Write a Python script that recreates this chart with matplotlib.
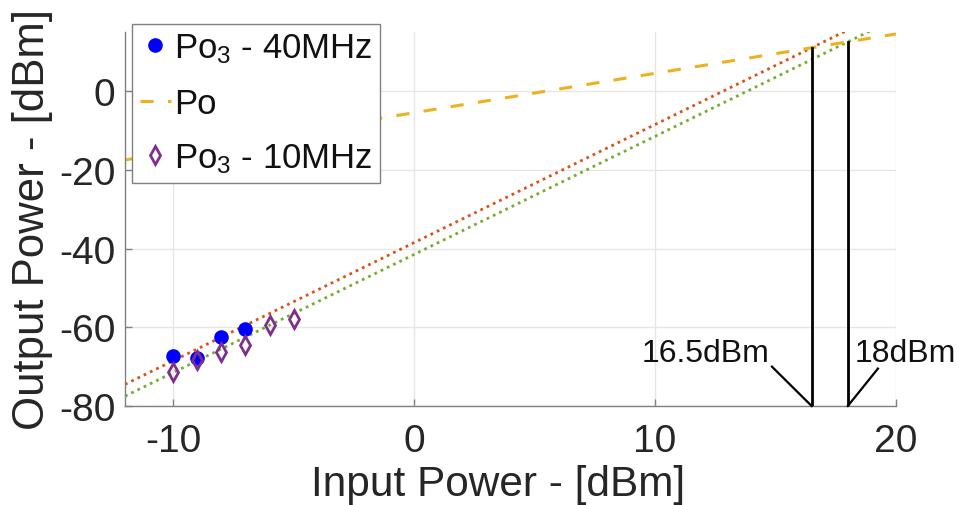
import numpy as np
import matplotlib
matplotlib.use("Agg")
import matplotlib.pyplot as plt

plt.rcParams['font.family'] = ['Liberation Sans', 'DejaVu Sans']
plt.rcParams['mathtext.fontset'] = 'custom'
plt.rcParams['mathtext.rm'] = 'Liberation Sans'
plt.rcParams['mathtext.it'] = 'Liberation Sans:italic'
plt.rcParams['axes.unicode_minus'] = False

# Measured third-order output power (dBm) vs input power (dBm)
pin_40 = [-10, -9, -8, -7]
po3_40 = [-67.2, -67.8, -62.6, -60.5]
pin_10 = [-10, -9, -8, -7, -6, -5]
po3_10 = [-71.3, -68.4, -66.2, -64.4, -59.5, -57.8]

# Fitted lines: fundamental (slope 1) and third-order (slope 3)
po_gain = -5.5
po3_40_offset = -38.5
po3_10_offset = -41.5
iip3_values = [16.5, 18.0]
iip3_labels = ['16.5dBm', '18dBm']

xlim = (-12, 20)
ylim = (-80, 15)
xticks = [-10, 0, 10, 20]
yticks = [-80, -60, -40, -20, 0]

fig = plt.figure(figsize=(9.59, 5.06), dpi=100)
ax = fig.add_axes([125 / 959, 1 - 407 / 506, (896 - 125) / 959, (407 - 33) / 506])

x_fit = np.linspace(xlim[0], xlim[1], 400)
ax.plot(x_fit, 3 * x_fit + po3_40_offset, color='#D95319', lw=2.0,
        linestyle=(0, (1, 1.5)), zorder=2)
ax.plot(x_fit, 3 * x_fit + po3_10_offset, color='#77AC30', lw=2.0,
        linestyle=(0, (1, 1.5)), zorder=2)
po_line, = ax.plot(x_fit, x_fit + po_gain, color='#EDB120', lw=2.2,
                   dashes=(4.3, 4.7), zorder=2, label='Po')

s40, = ax.plot(pin_40, po3_40, 'o', color='#0000FF', ms=9.5, zorder=3,
               label='Po$_3$ - 40MHz')
s10, = ax.plot(pin_10, po3_10, 'd', mfc='none', mec='#7E2F8E', mew=2.0,
               ms=9, zorder=4, label='Po$_3$ - 10MHz')

# Intercept markers
for xv in iip3_values:
    ax.plot([xv, xv], [ylim[0], xv + po_gain], color='black', lw=2.0, zorder=5)

ax.plot([14.85, iip3_values[0]], [-70, ylim[0]], color='black', lw=1.6,
        zorder=5, clip_on=False)
ax.plot([19.25, iip3_values[1]], [-70.5, ylim[0]], color='black', lw=1.6,
        zorder=5, clip_on=False)
ax.text(14.75, -66.5, iip3_labels[0], fontsize=23, ha='right', va='center',
        color='#111111')
ax.text(18.3, -66.5, iip3_labels[1], fontsize=23, ha='left', va='center',
        color='#111111', clip_on=False)

ax.set_xlim(*xlim)
ax.set_ylim(*ylim)
ax.set_xticks(xticks)
ax.set_yticks(yticks)
ax.grid(True, color='#e6e6e6', lw=1.0)
ax.set_axisbelow(True)
for side in ['top', 'right']:
    ax.spines[side].set_visible(False)
for side in ['left', 'bottom']:
    ax.spines[side].set_color('#808080')
    ax.spines[side].set_linewidth(1.0)
ax.tick_params(direction='in', length=5, width=1, color='#808080',
               labelsize=28, labelcolor='#262626')
ax.tick_params(axis='x', pad=12)
ax.tick_params(axis='y', pad=7)

ax.set_xlabel('Input Power - [dBm]', fontsize=30.5, color='#262626', labelpad=-2)
ax.xaxis.set_label_coords((498 - 125) / (896 - 125), -0.155)
ax.set_ylabel('Output Power - [dBm]', fontsize=31.5, color='#262626', labelpad=4)

leg = ax.legend(handles=[s40, po_line, s10], loc='upper left',
                bbox_to_anchor=(132 / 959, 1 - 25 / 506),
                bbox_transform=fig.transFigure, fontsize=25,
                frameon=True, fancybox=False, edgecolor='#808080',
                framealpha=1, borderpad=0.22, labelspacing=0.62,
                handlelength=0.9, handletextpad=0.08, borderaxespad=0)
leg.get_frame().set_linewidth(1.0)
for t in leg.get_texts():
    t.set_color('#111111')

fig.savefig('out.png', dpi=100)
